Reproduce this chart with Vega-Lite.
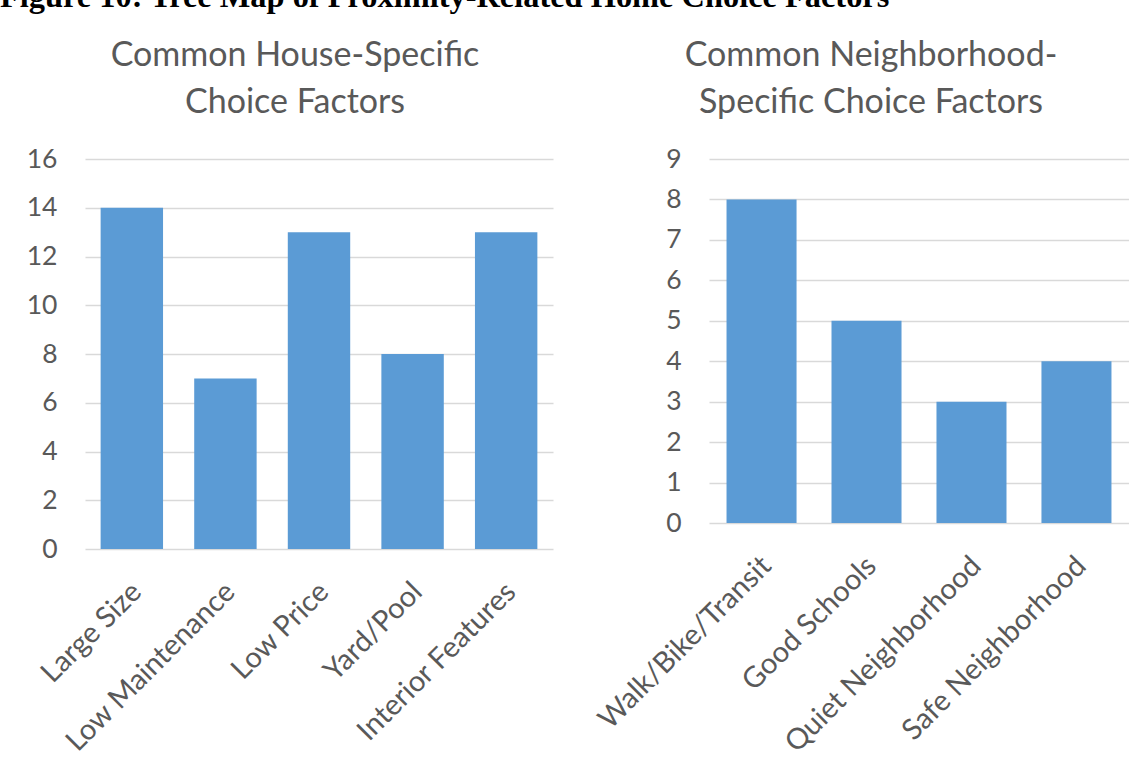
{
  "$schema": "https://vega.github.io/schema/vega-lite/v6.json",
  "padding": {"left": 0, "top": -20, "right": 0, "bottom": 0},
  "background": "white",
  "title": {
    "text": "Figure 10: Tree Map of Proximity-Related Home Choice Factors",
    "anchor": "start",
    "font": "Liberation Serif",
    "fontSize": 32.4,
    "fontWeight": "bold",
    "color": "black",
    "offset": 26
  },
  "datasets": {
    "house": [
      {"factor": "Large Size", "count": 14},
      {"factor": "Low Maintenance", "count": 7},
      {"factor": "Low Price", "count": 13},
      {"factor": "Yard/Pool", "count": 8},
      {"factor": "Interior Features", "count": 13}
    ],
    "hood": [
      {"factor": "Walk/Bike/Transit", "count": 8},
      {"factor": "Good Schools", "count": 5},
      {"factor": "Quiet Neighborhood", "count": 3},
      {"factor": "Safe Neighborhood", "count": 4}
    ]
  },
  "spacing": 40,
  "hconcat": [
    {
      "data": {"name": "house"},
      "width": 468,
      "height": 390,
      "title": {"text": ["Common House-Specific", "Choice Factors"], "dx": -24},
      "mark": {"type": "bar", "color": "#5b9bd5"},
      "encoding": {
        "x": {
          "field": "factor", "type": "nominal", "sort": null,
          "scale": {"paddingInner": 0.333, "paddingOuter": 0.167},
          "axis": {"title": null, "labelAngle": -45}
        },
        "y": {
          "field": "count", "type": "quantitative",
          "scale": {"domain": [0, 16]},
          "axis": {"title": null, "values": [0, 2, 4, 6, 8, 10, 12, 14, 16], "minExtent": 85}
        }
      }
    },
    {
      "data": {"name": "hood"},
      "width": 420,
      "height": 364,
      "title": {"text": ["Common Neighborhood-", "Specific Choice Factors"], "dx": -48},
      "mark": {"type": "bar", "color": "#5b9bd5"},
      "encoding": {
        "x": {
          "field": "factor", "type": "nominal", "sort": null,
          "scale": {"paddingInner": 0.333, "paddingOuter": 0.167},
          "axis": {"title": null, "labelAngle": -45}
        },
        "y": {
          "field": "count", "type": "quantitative",
          "scale": {"domain": [0, 9]},
          "axis": {"title": null, "values": [0, 1, 2, 3, 4, 5, 6, 7, 8, 9]}
        }
      }
    }
  ],
  "config": {
    "view": {"stroke": null},
    "font": "Lato",
    "title": {
      "font": "Lato",
      "fontSize": 34,
      "fontWeight": "normal",
      "color": "#595959",
      "lineHeight": 47,
      "anchor": "middle",
      "offset": 26
    },
    "axis": {
      "labelFont": "Lato",
      "labelColor": "#595959",
      "labelLimit": 0,
      "ticks": false,
      "domain": false,
      "gridColor": "#d9d9d9",
      "gridWidth": 1.5
    },
    "axisY": {"labelPadding": 28, "labelFontSize": 26.5, "grid": true},
    "axisX": {"labelPadding": 28, "labelOffset": -5, "labelFontSize": 29, "grid": false, "domain": false}
  }
}
